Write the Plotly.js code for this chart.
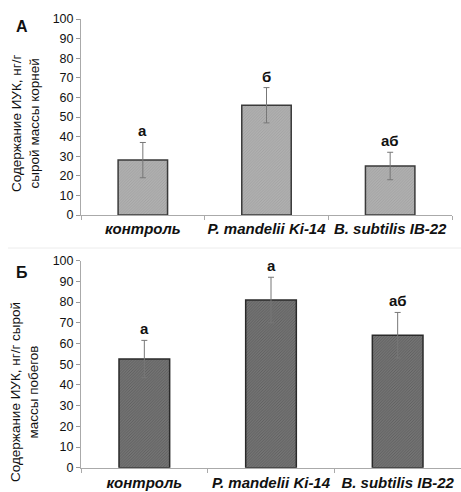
<!DOCTYPE html>
<html><head><meta charset="utf-8">
<script src="https://cdn.plot.ly/plotly-3.0.1.min.js"></script>
<style>html,body{margin:0;padding:0;background:#fff}#chart{width:461px;height:492px}</style>
</head><body><div id="chart"></div>
<script>
const categoriesTop = ["контроль", "P. mandelii Ki-14", "B. subtilis IB-22"];
const categoriesBottom = ["контроль", "P. mandelii Ki-14", "B. subtilis IB-22"];
const rootsValues = [28, 56, 25];
const rootsErrors = [9, 9, 7];
const rootsLetters = ["а", "б", "аб"];
const shootsValues = [52.5, 81, 64];
const shootsErrors = [9, 11, 11];
const shootsLetters = ["а", "а", "аб"];
const yTicks = [0, 10, 20, 30, 40, 50, 60, 70, 80, 90, 100];

const FONT = "Liberation Sans, Arial, sans-serif";

const traces = [
  {
    type: "bar", x: categoriesTop, y: rootsValues, xaxis: "x", yaxis: "y",
    width: 0.4,
    marker: {color: "#ababab", line: {color: "#3a3a3a", width: 1.5},
      pattern: {shape: "/", size: 2, solidity: 0.3, fgcolor: "#9a9a9a", bgcolor: "#b0b0b0"}},
    error_y: {type: "data", array: rootsErrors, visible: true, color: "#777", thickness: 1, width: 3},
    hoverinfo: "none", showlegend: false
  },
  {
    type: "bar", x: categoriesBottom, y: shootsValues, xaxis: "x2", yaxis: "y2",
    width: 0.4,
    marker: {color: "#6c6c6c", line: {color: "#2a2a2a", width: 1.5},
      pattern: {shape: "/", size: 2, solidity: 0.35, fgcolor: "#585858", bgcolor: "#747474"}},
    error_y: {type: "data", array: shootsErrors, visible: true, color: "#777", thickness: 1, width: 3},
    hoverinfo: "none", showlegend: false
  }
];

const annotations = [];
categoriesTop.forEach((c, i) => annotations.push({
  x: c, y: rootsValues[i] + rootsErrors[i], xref: "x", yref: "y", text: rootsLetters[i],
  showarrow: false, yanchor: "bottom", yshift: 1, font: {family: FONT, size: 15, color: "#111", weight: "bold"}
}));
categoriesBottom.forEach((c, i) => annotations.push({
  x: c, y: shootsValues[i] + shootsErrors[i], xref: "x2", yref: "y2", text: shootsLetters[i],
  showarrow: false, yanchor: "bottom", yshift: 1, font: {family: FONT, size: 15, color: "#111", weight: "bold"}
}));
annotations.push(
  {x: 22 / 461, y: 1 - 26 / 492, xref: "paper", yref: "paper", text: "<b>А</b>", showarrow: false,
   xanchor: "center", yanchor: "middle", font: {family: FONT, size: 16, color: "#111"}},
  {x: 22 / 461, y: 1 - 272 / 492, xref: "paper", yref: "paper", text: "<b>Б</b>", showarrow: false,
   xanchor: "center", yanchor: "middle", font: {family: FONT, size: 16, color: "#111"}},
  {x: 26 / 461, y: 1 - 124 / 492, xref: "paper", yref: "paper", textangle: -90, showarrow: false,
   xanchor: "center", yanchor: "middle",
   text: "Содержание ИУК, нг/г<br>сырой массы корней", align: "center",
   font: {family: FONT, size: 13.5, color: "#111"}},
  {x: 24 / 461, y: 1 - 392 / 492, xref: "paper", yref: "paper", textangle: -90, showarrow: false,
   xanchor: "center", yanchor: "middle",
   text: "Содержание ИУК, нг/г сырой<br>массы побегов", align: "center",
   font: {family: FONT, size: 13.5, color: "#111"}}
);

const yAxisBase = {
  range: [0, 100], tickvals: yTicks, ticks: "outside", ticklen: 4, tickcolor: "#999",
  showline: true, linecolor: "#aaa", linewidth: 1, showgrid: false, zeroline: false,
  tickfont: {family: FONT, size: 12.5, color: "#111"}, fixedrange: true
};
const xAxisBase = {
  type: "category", ticks: "outside", tickson: "boundaries", ticklen: 4, tickcolor: "#aaa",
  showline: true, linecolor: "#aaa", linewidth: 1, showgrid: false, tickangle: 0,
  tickfont: {family: FONT, size: 15, color: "#111", weight: "bold", style: "italic"}, fixedrange: true
};

const layout = {
  width: 461, height: 492,
  margin: {l: 0, r: 0, t: 0, b: 0},
  paper_bgcolor: "#fff", plot_bgcolor: "#fff",
  bargap: 0.6,
  xaxis: Object.assign({}, xAxisBase, {domain: [81 / 461, 452 / 461], anchor: "y"}),
  yaxis: Object.assign({}, yAxisBase, {domain: [1 - 215 / 492, 1 - 19 / 492], anchor: "x"}),
  xaxis2: Object.assign({}, xAxisBase, {domain: [81 / 461, 1], anchor: "y2", ticklabelstandoff: 1}),
  yaxis2: Object.assign({}, yAxisBase, {domain: [1 - 467.7 / 492, 1 - 260.7 / 492], anchor: "x2"}),
  annotations: annotations,
  shapes: [
    {type: "line", xref: "paper", yref: "paper", x0: 8 / 461, x1: 1, y0: 1 - 248 / 492, y1: 1 - 248 / 492,
     line: {color: "#ececec", width: 1}}
  ]
};

Plotly.newPlot("chart", traces, layout, {staticPlot: true, displayModeBar: false});
</script>
</body></html>
